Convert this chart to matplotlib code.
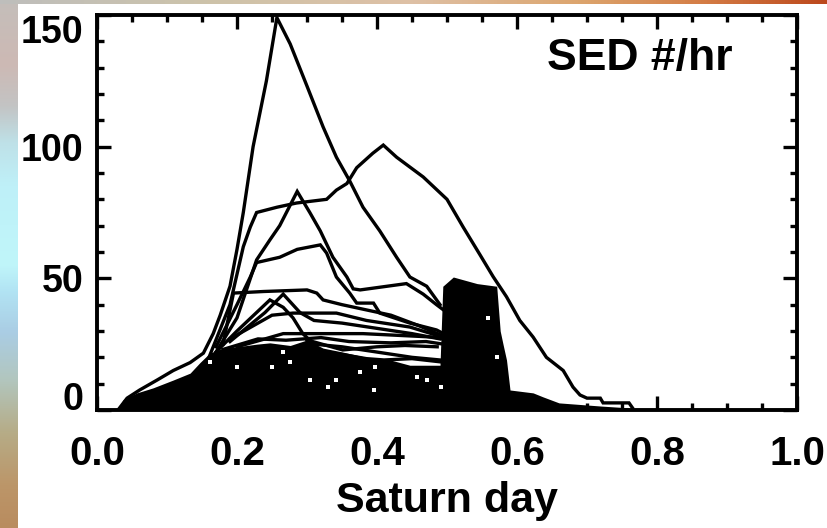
import numpy as np
import matplotlib
matplotlib.use("Agg")
import matplotlib.pyplot as plt
from matplotlib.colors import LinearSegmentedColormap
from matplotlib.ticker import MultipleLocator

# ---- data ----
# individual rotation profiles (Saturn day phase vs SED rate per hour)
c150_x = [0.03, 0.043, 0.061, 0.086, 0.109, 0.133, 0.152, 0.166, 0.176, 0.19, 0.2, 0.209,
          0.223, 0.242, 0.257, 0.276, 0.3, 0.323, 0.342, 0.361, 0.38, 0.404, 0.428, 0.447,
          0.471, 0.49]
c150_y = [0, 4.5, 7.6, 11.4, 15, 18, 21.6, 29, 36, 47, 61, 75,
          100, 125, 149, 139, 123, 107.5, 96, 87, 77, 68, 58, 50.5,
          47, 40]

c100_x = [0.16, 0.19, 0.209, 0.219, 0.228, 0.257, 0.285, 0.328, 0.342, 0.357, 0.371, 0.394,
          0.409, 0.428, 0.466, 0.5, 0.523, 0.547, 0.566, 0.585, 0.604, 0.623, 0.642, 0.666,
          0.68, 0.69, 0.70, 0.719, 0.723, 0.76, 0.765]
c100_y = [20, 40, 62, 69.5, 75, 77, 78.6, 80, 83.5, 86, 92, 97.5,
          100.6, 96, 88.5, 80, 69.5, 59, 50.6, 43, 34, 27.7, 20, 15,
          8.7, 5.7, 4.5, 4.5, 2.7, 2.7, 0.8]

c82_x = [0.17, 0.2, 0.228, 0.247, 0.261, 0.286, 0.304, 0.319, 0.337, 0.357, 0.366, 0.376,
         0.442, 0.466, 0.485, 0.495]
c82_y = [22, 35, 57, 64.6, 70, 83, 75, 68, 58, 50.5, 46, 45.6,
         48, 44, 40, 38]

c63_x = [0.17, 0.2, 0.219, 0.228, 0.261, 0.286, 0.319, 0.328, 0.342, 0.361, 0.371, 0.395,
         0.404, 0.447, 0.485, 0.495]
c63_y = [24, 40, 50.5, 56, 58, 61, 62.7, 59.6, 50.5, 44.4, 40.6, 40.6,
         36.8, 33, 30.4, 29]

c45_x = [0.18, 0.195, 0.238, 0.3, 0.314, 0.323, 0.35, 0.385, 0.42, 0.46, 0.495]
c45_y = [25, 44.4, 45, 45.6, 44.4, 41.8, 40, 38, 36, 32, 28]

ctri_x = [0.17, 0.2, 0.247, 0.266, 0.28, 0.294, 0.31, 0.35, 0.4, 0.45, 0.49]
ctri_y = [22, 30, 41.8, 39, 35, 29, 25, 24, 22, 20, 19]

ctri2_x = [0.19, 0.24, 0.266, 0.29, 0.31, 0.35, 0.4, 0.45, 0.49]
ctri2_y = [26, 37, 44, 37, 34, 33, 31, 29, 27]

c37_x = [0.19, 0.25, 0.28, 0.342, 0.385, 0.447, 0.49]
c37_y = [27, 36, 36.8, 36.8, 34, 31.5, 28]

c29_x = [0.2, 0.24, 0.266, 0.38, 0.48, 0.495]
c29_y = [24, 27, 29, 29, 27.7, 27]

c27_x = [0.18, 0.23, 0.27, 0.32, 0.36, 0.42, 0.47, 0.495]
c27_y = [23, 27, 26.5, 27.5, 26, 25.5, 26, 25]

c24_x = [0.3, 0.351, 0.40, 0.44, 0.486]
c24_y = [26.6, 22.8, 24, 24.5, 24]

c19_x = [0.33, 0.385, 0.41, 0.45, 0.5]
c19_y = [22, 19.5, 19, 19.5, 18]

# solid black mass of overlapping low-rate profiles
fill_x = [0.03, 0.037, 0.057, 0.08, 0.109, 0.133, 0.147, 0.161, 0.18, 0.2, 0.228, 0.247,
          0.276, 0.3, 0.323, 0.351, 0.385, 0.419, 0.447, 0.49, 0.494, 0.509, 0.543, 0.571,
          0.576, 0.58, 0.585, 0.59, 0.623, 0.637, 0.66, 0.72, 0.76]
fill_y = [0, 3.8, 6.5, 8.4, 11.4, 14, 18, 21.6, 23.5, 24, 25, 25.5,
          24.5, 26.6, 23.5, 22, 20, 19, 17, 17, 47, 50.5, 48, 47,
          30, 25, 19, 7.6, 6.5, 5, 2.7, 1.5, 0.8]

# white gaps inside the black mass
gap_x = [0.161, 0.2, 0.25, 0.266, 0.276, 0.304, 0.33, 0.342, 0.376, 0.395, 0.397, 0.457,
         0.471, 0.492, 0.559, 0.572]
gap_y = [18.2, 16.3, 16.3, 22, 18.2, 11.4, 8.7, 11.4, 14.4, 7.6, 16.3, 12.5,
         11.4, 8.7, 35, 20]

x_ticks = [0.0, 0.2, 0.4, 0.6, 0.8, 1.0]
x_labels = ["0.0", "0.2", "0.4", "0.6", "0.8", "1.0"]
y_ticks = [0, 50, 100, 150]
y_labels = ["0", "50", "100", "150"]

tick_font = "Liberation Sans"

fig = plt.figure(figsize=(8.27, 5.28), dpi=100, facecolor="white")

# slide background strips
left_cmap = LinearSegmentedColormap.from_list("left", [
    (0.0, (196/255, 190/255, 186/255)), (0.12, (205/255, 185/255, 180/255)),
    (0.2, (195/255, 196/255, 196/255)), (0.27, (190/255, 225/255, 232/255)),
    (0.35, (190/255, 240/255, 248/255)), (0.5, (192/255, 246/255, 250/255)),
    (0.55, (178/255, 228/255, 244/255)), (0.63, (170/255, 205/255, 228/255)),
    (0.72, (178/255, 198/255, 190/255)), (0.82, (182/255, 172/255, 135/255)),
    (0.92, (188/255, 150/255, 105/255)), (1.0, (185/255, 140/255, 95/255))])
top_cmap = LinearSegmentedColormap.from_list("top", [
    (0.0, (190/255, 190/255, 188/255)), (0.25, (205/255, 195/255, 170/255)),
    (0.5, (222/255, 192/255, 165/255)), (0.7, (220/255, 165/255, 110/255)),
    (0.85, (212/255, 125/255, 70/255)), (1.0, (188/255, 72/255, 28/255))])
grad = np.linspace(0, 1, 256)
ax_l = fig.add_axes([0, 0, 18/827, 1])
ax_l.imshow(grad[:, None], aspect="auto", cmap=left_cmap)
ax_l.axis("off")
ax_t = fig.add_axes([0, 1 - 4/528, 1, 4/528])
ax_t.imshow(grad[None, :], aspect="auto", cmap=top_cmap)
ax_t.axis("off")

ax = fig.add_axes([97/827, 118/528, 700/827, 395/528])

ax.fill_between(fill_x, 0, fill_y, color="black", lw=0)
curves = [(c150_x, c150_y), (c100_x, c100_y), (c82_x, c82_y), (c63_x, c63_y),
          (c45_x, c45_y), (ctri_x, ctri_y), (ctri2_x, ctri2_y), (c37_x, c37_y),
          (c29_x, c29_y), (c27_x, c27_y), (c24_x, c24_y), (c19_x, c19_y)]
for cx, cy in curves:
    ax.plot(cx, cy, color="black", lw=2.4, solid_joinstyle="miter")
ax.plot(gap_x, gap_y, "s", color="white", ms=3, mew=0)

ax.set_xlim(0, 1)
ax.set_ylim(0, 150)

for sp in ax.spines.values():
    sp.set_linewidth(2.8)

ax.set_xticks(x_ticks)
ax.set_xticklabels(x_labels)
ax.set_yticks(y_ticks)
ax.set_yticklabels(y_labels)
ax.xaxis.set_minor_locator(MultipleLocator(0.05))
ax.yaxis.set_minor_locator(MultipleLocator(10))
ax.tick_params(which="both", direction="in", top=True, right=True, width=2.4)
ax.tick_params(which="major", length=10)
ax.tick_params(which="minor", length=5)
ax.tick_params(axis="x", pad=18)
ax.tick_params(axis="y", pad=10)

for lab in ax.get_xticklabels():
    lab.set_fontfamily(tick_font)
    lab.set_fontweight("bold")
    lab.set_fontsize(29)
for lab in ax.get_yticklabels():
    lab.set_fontfamily(tick_font)
    lab.set_fontweight("bold")
    lab.set_fontsize(27)
ylabs = ax.get_yticklabels()
ylabs[0].set_verticalalignment("baseline")
ylabs[-1].set_verticalalignment("top")

ax.set_xlabel("Saturn day", family=tick_font, fontweight="bold", fontsize=31, labelpad=6)

ax.text(0.643, 0.861, "SED #/hr", transform=ax.transAxes, ha="left", va="baseline",
        family="Liberation Sans", fontweight="bold", fontsize=32)

fig.savefig("out.png", dpi=100, facecolor="white")
